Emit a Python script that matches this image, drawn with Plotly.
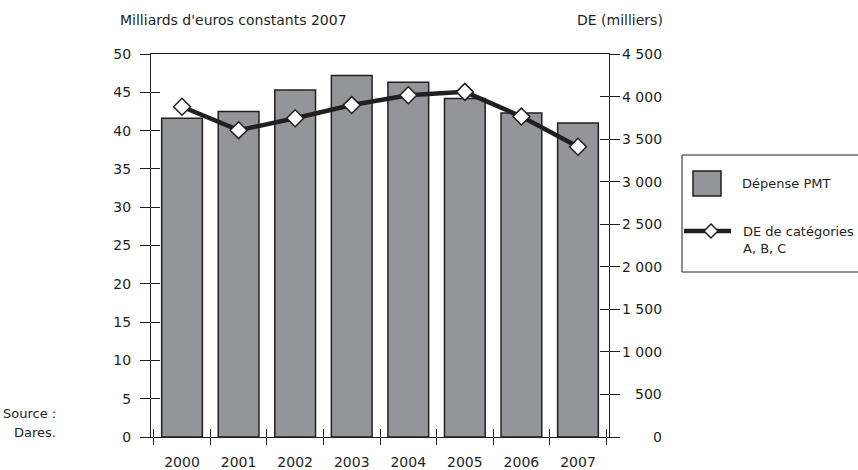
import plotly.graph_objects as go

# Data
years = ["2000", "2001", "2002", "2003", "2004", "2005", "2006", "2007"]
depense_pmt = [41.6, 42.5, 45.3, 47.2, 46.3, 44.2, 42.3, 41.0]        # Mds d'euros constants 2007
de_abc = [3880, 3605, 3745, 3900, 4015, 4055, 3765, 3410]             # milliers
left_ticks = [0, 5, 10, 15, 20, 25, 30, 35, 40, 45, 50]
right_ticks = [0, 500, 1000, 1500, 2000, 2500, 3000, 3500, 4000, 4500]

FONT = "DejaVu Sans"
FS = 14
TXT = "#231f20"
BAR = "#939598"
LINE = "#231f20"

W, H = 858, 470
L, R, T, B = 151, 609, 54, 437


def px(x):
    return (x - L) / (R - L)


def py(y):
    return (B - y) / (B - T)


def fmt(v):
    return f"{v:,}".replace(",", " ")


font = dict(family=FONT, size=FS, color=TXT)
small = dict(family=FONT, size=13, color=TXT)

fig = go.Figure()

fig.add_trace(go.Bar(
    x=years, y=depense_pmt, name="Dépense PMT",
    marker=dict(color=BAR, line=dict(color=LINE, width=1.5)),
    width=0.72, yaxis="y", showlegend=False,
))

fig.add_trace(go.Scatter(
    x=years, y=de_abc, name="DE de catégories A, B, C",
    mode="lines+markers", yaxis="y2",
    line=dict(color=LINE, width=4.5),
    marker=dict(symbol="diamond", size=13, color="white",
                line=dict(color=LINE, width=1.5)),
    showlegend=False,
))

# transparent companions that carry the inner tick marks of each axis
fig.add_trace(go.Scatter(x=years, y=depense_pmt, xaxis="x2", yaxis="y3",
                         mode="markers", marker=dict(opacity=0),
                         showlegend=False, hoverinfo="skip"))
fig.add_trace(go.Scatter(x=years, y=de_abc, xaxis="x2", yaxis="y5",
                         mode="markers", marker=dict(opacity=0),
                         showlegend=False, hoverinfo="skip"))

annotations = []
# right axis tick labels, right-aligned
for v in right_ticks:
    annotations.append(dict(
        x=px(664), xref="paper", xanchor="right", y=v, yref="y2",
        yanchor="middle", text=fmt(v), showarrow=False, font=font,
    ))

annotations += [
    dict(x=px(118), y=py(20), xref="paper", yref="paper", xanchor="left",
         yanchor="middle", text="Milliards d'euros constants 2007",
         showarrow=False, font=font),
    dict(x=px(665), y=py(20), xref="paper", yref="paper", xanchor="right",
         yanchor="middle", text="DE (milliers)", showarrow=False, font=font),
    dict(x=px(58), y=py(413), xref="paper", yref="paper", xanchor="right",
         yanchor="middle", text="Source :", showarrow=False, font=small),
    dict(x=px(58), y=py(432), xref="paper", yref="paper", xanchor="right",
         yanchor="middle", text="Dares.", showarrow=False, font=small),
    # legend texts
    dict(x=px(740), y=py(183), xref="paper", yref="paper", xanchor="left",
         yanchor="middle", text="Dépense PMT", showarrow=False, font=small),
    dict(x=px(741), y=py(240), xref="paper", yref="paper", xanchor="left",
         yanchor="middle", text="DE de catégories<br>A, B, C", align="left",
         showarrow=False, font=small),
]

# legend diamond as a path in pixel-derived paper coordinates
cx, cy, d = 711, 231, 7
diamond = (f"M {px(cx - d)} {py(cy)} L {px(cx)} {py(cy - d)} "
           f"L {px(cx + d)} {py(cy)} L {px(cx)} {py(cy + d)} Z")

shapes = [
    # legend frame
    dict(type="rect", xref="paper", yref="paper",
         x0=px(682), x1=px(870), y0=py(155), y1=py(272),
         line=dict(color=TXT, width=1), fillcolor="rgba(0,0,0,0)"),
    # bar swatch
    dict(type="rect", xref="paper", yref="paper",
         x0=px(693), x1=px(721), y0=py(171), y1=py(196),
         line=dict(color=LINE, width=1.5), fillcolor=BAR),
    # line swatch
    dict(type="line", xref="paper", yref="paper",
         x0=px(684), x1=px(731), y0=py(231), y1=py(231),
         line=dict(color=LINE, width=4.5)),
    dict(type="path", xref="paper", yref="paper", path=diamond,
         fillcolor="white", line=dict(color=LINE, width=1.5)),
]

fig.update_layout(
    width=W, height=H,
    margin=dict(l=L, r=W - R, t=T, b=H - B, autoexpand=False),
    paper_bgcolor="white", plot_bgcolor="white",
    showlegend=False,
    bargap=0.28,
    xaxis=dict(
        type="category", tickson="boundaries", ticks="outside", ticklen=7,
        tickcolor=TXT, tickwidth=1, showline=True, linecolor=TXT, linewidth=1,
        mirror=True, showgrid=False, tickfont=font, ticklabelstandoff=12,
        automargin=False,
    ),
    xaxis2=dict(
        type="category", overlaying="x", tickson="boundaries", ticks="inside",
        ticklen=8, tickcolor=TXT, showticklabels=False, showgrid=False,
        matches="x", showline=False, automargin=False,
    ),
    yaxis=dict(
        range=[0, 50], tickvals=left_ticks, ticks="outside", ticklen=10,
        tickcolor=TXT, showline=True, linecolor=TXT, linewidth=1,
        showgrid=False, zeroline=False, tickfont=font, ticklabelstandoff=6,
        automargin=False,
    ),
    yaxis2=dict(
        range=[0, 4500], tickvals=right_ticks, overlaying="y", side="right",
        ticks="outside", ticklen=10, tickcolor=TXT, showline=True,
        linecolor=TXT, linewidth=1, showgrid=False, zeroline=False,
        showticklabels=False, automargin=False,
    ),
    yaxis3=dict(
        range=[0, 50], tickvals=left_ticks, overlaying="y", side="left",
        ticks="inside", ticklen=9, tickcolor=TXT, showticklabels=False,
        showgrid=False, zeroline=False, showline=False, automargin=False,
    ),
    yaxis5=dict(
        range=[0, 4500], tickvals=right_ticks, overlaying="y", side="right",
        ticks="inside", ticklen=9, tickcolor=TXT, showticklabels=False,
        showgrid=False, zeroline=False, showline=False, automargin=False,
    ),
    annotations=annotations,
    shapes=shapes,
)

fig.write_html("out.html")
